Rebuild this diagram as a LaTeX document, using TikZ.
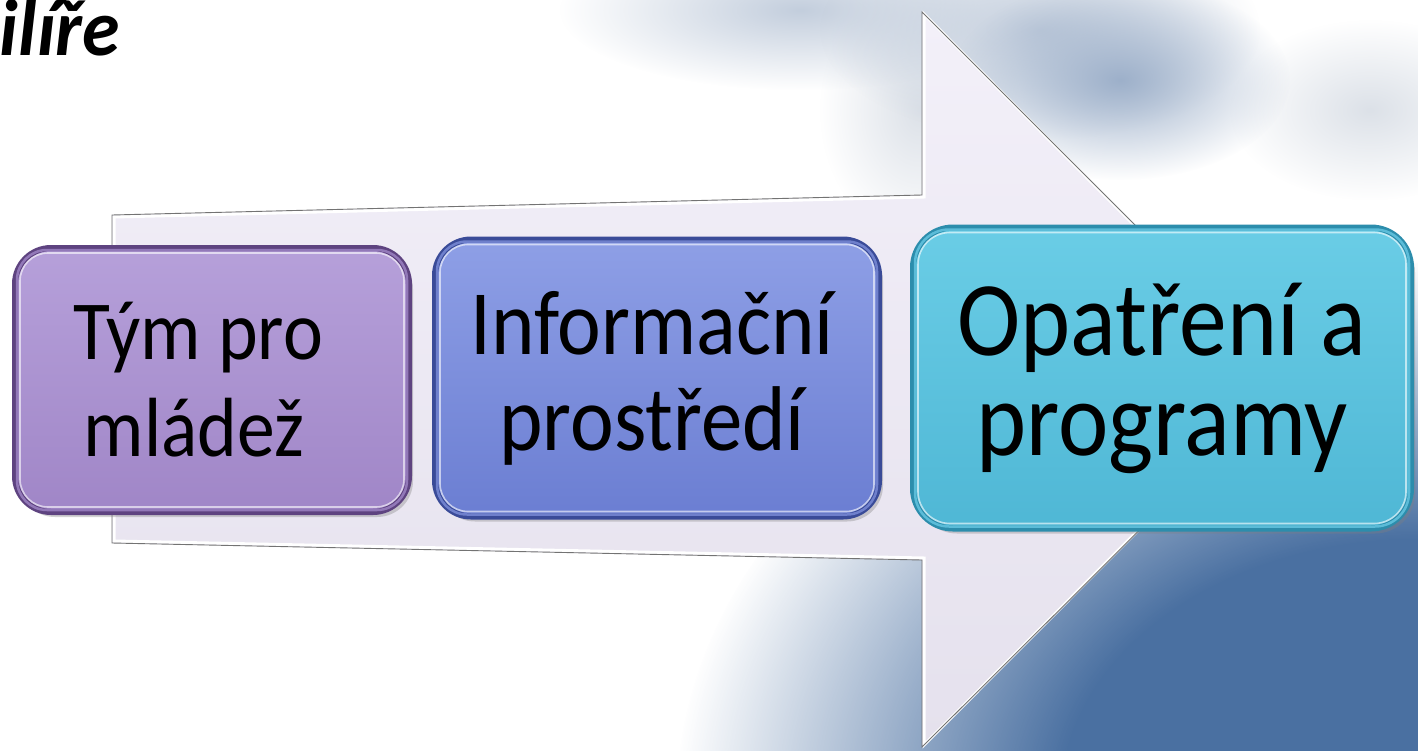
\documentclass[tikz,border=0pt]{standalone}
\usepackage{fontspec}
\setmainfont{Carlito}
\newfontfamily\boxfont{Carlito}[FakeStretch=0.9]
\newfontfamily\titlefont{Carlito}[FakeStretch=0.95]
\usetikzlibrary{fadings,shadows}
\definecolor{bgblue}{HTML}{4A70A1}
\definecolor{cloudA}{HTML}{9DB0CA}
\definecolor{cloudB}{HTML}{C3CEDD}
\definecolor{cloudC}{HTML}{DCE1E8}
\definecolor{arrowtop}{HTML}{F3F0F9}
\definecolor{arrowbot}{HTML}{E5E1ED}
\definecolor{purtop}{HTML}{B6A0DA}
\definecolor{purbot}{HTML}{A086C7}
\definecolor{puredge}{HTML}{5E4380}
\definecolor{purrim}{HTML}{9278B8}
\definecolor{blutop}{HTML}{8E9FE6}
\definecolor{blubot}{HTML}{6B7ED2}
\definecolor{bluedge}{HTML}{3A4B98}
\definecolor{blurim}{HTML}{6F80CC}
\definecolor{cyatop}{HTML}{6ACDE6}
\definecolor{cyabot}{HTML}{4FB7D5}
\definecolor{cyaedge}{HTML}{2C8DAC}
\definecolor{cyarim}{HTML}{5BBCD8}
\pgfdeclareradialshading{plateaushade}{\pgfpoint{0bp}{0bp}}{color(0bp)=(white); color(12bp)=(white); color(25bp)=(black); color(50bp)=(black)}
\pgfdeclarefading{plateau}{\pgfuseshading{plateaushade}}
\pgfdeclareradialshading{softshade}{\pgfpoint{0bp}{0bp}}{color(0bp)=(white); color(25bp)=(black); color(50bp)=(black)}
\pgfdeclarefading{softblob}{\pgfuseshading{softshade}}
\tikzset{
  stepbox/.style={rounded corners=36pt, line width=6pt, align=center, inner sep=0pt, text=black,
    drop shadow={opacity=.35, shadow xshift=4pt, shadow yshift=-5pt}},
  rimline/.style={line width=2.5pt, rounded corners=30pt},
  hiline/.style={white, opacity=.6, line width=1.6pt, rounded corners=28pt},
}
\begin{document}
\begin{tikzpicture}[x=1pt,y=-1pt]
\useasboundingbox (0,0) rectangle (1418,750);
\clip (0,0) rectangle (1418,750);
% background
\fill[white] (0,0) rectangle (1418,750);
\fill[cloudC, path fading=softblob] (1370,110) ellipse [x radius=140, y radius=90];
\fill[cloudC, path fading=softblob] (920,110) ellipse [x radius=100, y radius=130];
\fill[cloudB, path fading=softblob] (800,10) ellipse [x radius=240, y radius=80];
\fill[cloudB, path fading=softblob] (1040,30) ellipse [x radius=220, y radius=110];
\fill[cloudA, path fading=softblob] (1120,80) ellipse [x radius=170, y radius=100];
\fill[bgblue, path fading=plateau] (1418,800) ellipse [x radius=740, y radius=540];
% arrow
\coordinate (a1) at (112,215);
\coordinate (a2) at (922,195);
\coordinate (a3) at (922,12);
\coordinate (a4) at (1290,380);
\coordinate (a5) at (922,747);
\coordinate (a6) at (922,560);
\coordinate (a7) at (112,543);
\shade[top color=arrowtop, bottom color=arrowbot] (a1) -- (a2) -- (a3) -- (a4) -- (a5) -- (a6) -- (a7) -- cycle;
\draw[white, line width=3pt, line join=miter] ([shift={(2,2)}]a1) -- ([shift={(2,2)}]a2) -- ([shift={(2,2)}]a3) -- ([shift={(-2,0)}]a4) -- ([shift={(2,-2)}]a5) -- ([shift={(2,-2)}]a6) -- ([shift={(2,-2)}]a7) -- cycle;
\draw[black!55, line width=0.9pt, line join=miter] (a1) -- (a2) -- (a3) -- (a4) -- (a5) -- (a6) -- (a7) -- cycle;
% boxes
\node[stepbox, draw=puredge, top color=purtop, bottom color=purbot,
  minimum width=394pt, minimum height=264pt,
  font={\boxfont\fontsize{84}{97}\selectfont}] (p1) at (212,380) {Tým pro\hspace*{28pt}\\mládež\hspace*{36pt}};
\draw[rimline, purrim] ([shift={(5,5)}]p1.north west) rectangle ([shift={(-5,-5)}]p1.south east);
\draw[hiline] ([shift={(8,8)}]p1.north west) rectangle ([shift={(-8,-8)}]p1.south east);

\node[stepbox, draw=bluedge, top color=blutop, bottom color=blubot,
  minimum width=444pt, minimum height=277pt,
  font={\boxfont\fontsize{92}{96}\selectfont}] (p2) at (657,378) {Informační\hspace*{10pt}\\prostředí\hspace*{10pt}};
\draw[rimline, blurim] ([shift={(5,5)}]p2.north west) rectangle ([shift={(-5,-5)}]p2.south east);
\draw[hiline] ([shift={(8,8)}]p2.north west) rectangle ([shift={(-8,-8)}]p2.south east);

\node[stepbox, rounded corners=40pt, draw=cyaedge, top color=cyatop, bottom color=cyabot,
  minimum width=498pt, minimum height=301pt,
  font={\boxfont\fontsize{106}{100}\selectfont}] (p3) at (1162,378) {Opatření a\\programy};
\draw[rimline, cyarim, rounded corners=34pt] ([shift={(5,5)}]p3.north west) rectangle ([shift={(-5,-5)}]p3.south east);
\draw[hiline, rounded corners=32pt] ([shift={(8,8)}]p3.north west) rectangle ([shift={(-8,-8)}]p3.south east);
% title
\node[anchor=base east, inner sep=0pt, font={\titlefont\fontsize{80}{84}\selectfont\bfseries\itshape}] (title) at (120,55) {Pilíře};
\end{tikzpicture}
\end{document}
